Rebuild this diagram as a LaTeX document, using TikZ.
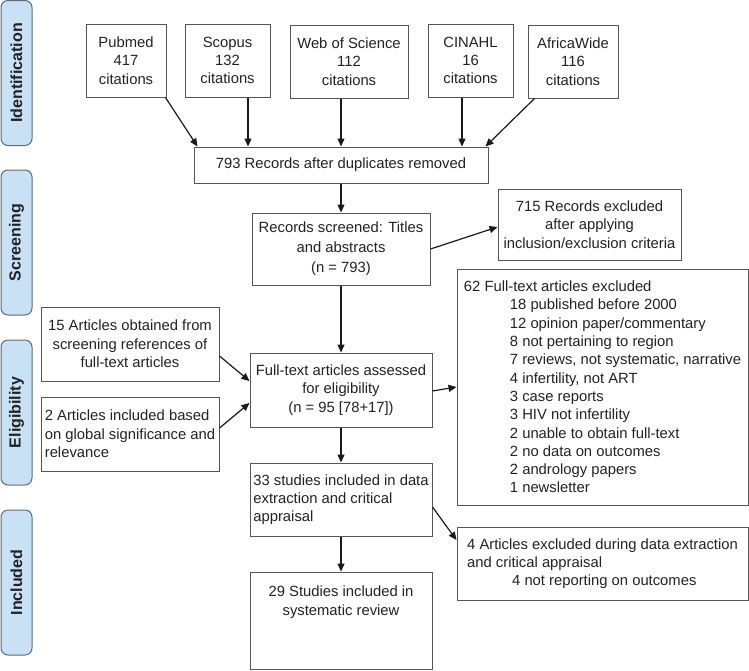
\documentclass[tikz,border=0pt]{standalone}
\usepackage{fontspec}
\setmainfont{Liberation Sans}
\usetikzlibrary{arrows.meta}
\definecolor{boxline}{HTML}{555555}
\definecolor{txt}{HTML}{222222}
\definecolor{labfill}{HTML}{C8E1F5}
\definecolor{labline}{HTML}{5E6B78}
\begin{document}
\begin{tikzpicture}[x=1pt,y=-1pt,
  box/.style={draw=boxline, line width=1pt, inner sep=0pt, align=center, text=txt,
    font=\fontsize{14.8}{18.3}\selectfont},
  lbox/.style={box, align=left},
  arr/.style={-{Triangle[length=8pt,width=7pt]}, line width=1.2pt, draw=black!90},
  phase/.style={draw=labline, fill=labfill, rounded corners=7pt, line width=1pt,
    rotate=90, minimum width=145pt, minimum height=31pt, inner sep=0pt,
    font=\bfseries\fontsize{16}{18}\selectfont, text=txt}]
\useasboundingbox (0,0) rectangle (749,670);

% phase labels
\node[phase] (ph1) at (16.5,73) {Identification};
\node[phase] (ph2) at (16.5,242.5) {Screening};
\node[phase] (ph3) at (16.5,412.5) {Eligibility};
\node[phase] (ph4) at (16.5,582.5) {Included};

% identification
\node[box, minimum width=80pt, minimum height=73pt] (pubmed) at (126,60.5) {Pubmed\\417\\citations};
\node[box, minimum width=85pt, minimum height=73pt] (scopus) at (227.5,60.5) {Scopus\\132\\citations};
\node[box, minimum width=118pt, minimum height=73pt] (wos) at (349,61.5) {Web of Science\\112\\citations};
\node[box, minimum width=85pt, minimum height=73pt] (cinahl) at (470.5,60.5) {CINAHL\\16\\citations};
\node[box, minimum width=90pt, minimum height=73pt] (africa) at (573,61.5) {AfricaWide\\116\\citations};
\node[box, minimum width=294pt, minimum height=36pt] (rec) at (341,165) {793 Records after duplicates removed};

% screening
\node[box, minimum width=178pt, minimum height=72pt, font=\fontsize{14.8}{20}\selectfont] (screened) at (341,249) {Records screened: Titles\\and abstracts\\(n = 793)};
\node[box, minimum width=183pt, minimum height=71pt] (excl715) at (589.5,224.5) {715 Records excluded\\after applying\\inclusion/exclusion criteria};

% eligibility
\node[lbox, minimum width=291pt, minimum height=236pt] (excl62) at (602.5,387) {62 Full-text articles excluded\\
\hspace*{46pt}18 published before 2000\\
\hspace*{46pt}12 opinion paper/commentary\\
\hspace*{46pt}8 not pertaining to region\\
\hspace*{46pt}7 reviews, not systematic, narrative\\
\hspace*{46pt}4 infertility, not ART\\
\hspace*{46pt}3 case reports\\
\hspace*{46pt}3 HIV not infertility\\
\hspace*{46pt}2 unable to obtain full-text\\
\hspace*{46pt}2 no data on outcomes\\
\hspace*{46pt}2 andrology papers\\
\hspace*{46pt}1 newsletter};
\node[box, minimum width=178pt, minimum height=74pt] (fifteen) at (130,344) {15 Articles obtained from\\screening references of\\full-text articles};
\node[box, minimum width=182pt, minimum height=74pt] (fulltext) at (341,390) {Full-text articles assessed\\for eligibility\\(n = 95 [78+17])};
\node[lbox, minimum width=178pt, minimum height=74pt] (two) at (130,434) {2 Articles included based\\on global significance and\\relevance};
\node[lbox, minimum width=182pt, minimum height=73pt] (s33) at (341,499.5) {33 studies included in data\\extraction and critical\\appraisal};

% included
\node[box, minimum width=182pt, minimum height=97pt] (s29) at (341,620.5) {};
\node[box, draw=none, anchor=north] (s29t) at ([yshift=-14pt]s29.north) {29 Studies included in\\systematic review};
\node[lbox, minimum width=291pt, minimum height=73pt] (excl4) at (602.5,563.5) {4 Articles excluded during data extraction\\and critical appraisal\\\hspace*{45pt}4 not reporting on outcomes};

% connectors
\coordinate (a2) at ([xshift=20.5pt]scopus.south);
\coordinate (a3) at ([xshift=-8pt]wos.south);
\coordinate (a4) at ([xshift=-8.5pt]cinahl.south);
\draw[arr] ([xshift=-1pt]pubmed.south east) -- ([xshift=4pt]rec.north west);
\draw[arr] (a2) -- (a2 |- rec.north);
\draw[arr] (a3) -- (a3 |- rec.north);
\draw[arr] (a4) -- (a4 |- rec.north);
\draw[arr] ([xshift=7pt]africa.south west) -- ([xshift=-3pt]rec.north east);
\draw[arr] (rec.south) -- (screened.north);
\draw[arr] (screened.east) -- ([yshift=-2.5pt]excl715.west);
\draw[arr] (screened.south) -- (fulltext.north);
\draw[arr] ([yshift=-12pt]fifteen.east) -- ([yshift=9pt]fulltext.west);
\draw[arr] ([yshift=6pt]two.east) -- ([yshift=-13pt]fulltext.west);
\draw[arr] ([yshift=-1pt]fulltext.east) -- (excl62.west);
\draw[arr] (fulltext.south) -- (s33.north);
\draw[arr] ([yshift=-7.5pt]s33.east) -- ([yshift=23.5pt]excl4.west);
\draw[arr] (s33.south) -- (s29.north);
\end{tikzpicture}
\end{document}
